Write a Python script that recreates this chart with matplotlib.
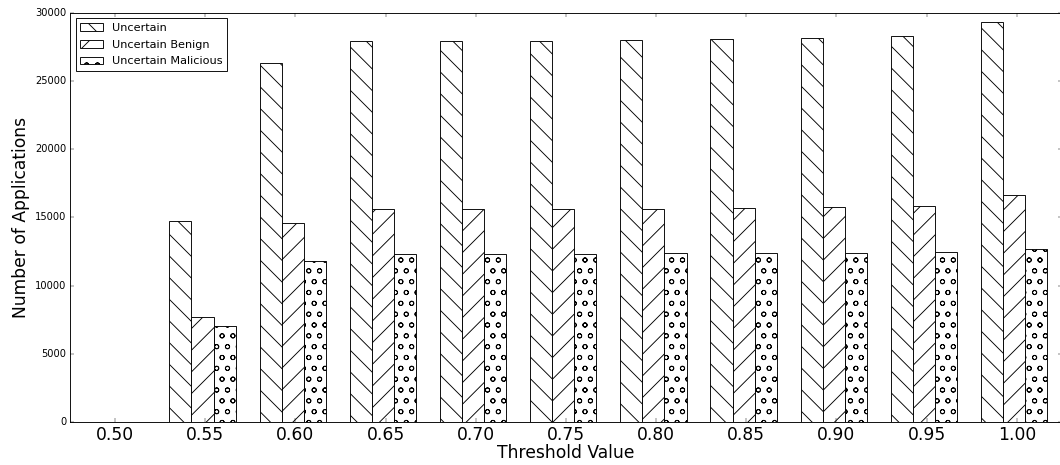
import matplotlib
matplotlib.use("Agg")
import matplotlib.pyplot as plt
import numpy as np

plt.style.use("classic")

thresholds = ["0.50", "0.55", "0.60", "0.65", "0.70", "0.75", "0.80", "0.85", "0.90", "0.95", "1.00"]
uncertain = [0, 14750, 26350, 27950, 27950, 27950, 28030, 28050, 28150, 28300, 29350]
uncertain_benign = [0, 7680, 14600, 15590, 15590, 15590, 15640, 15690, 15740, 15830, 16660]
uncertain_malicious = [0, 7040, 11780, 12320, 12330, 12330, 12360, 12360, 12370, 12440, 12680]

DPI = 65
fig = plt.figure(figsize=(1060 / DPI, 465 / DPI), dpi=DPI, facecolor="white")
ax = fig.add_axes([0.066, 0.0925, 0.9358, 0.8801])

x = np.arange(len(thresholds)) - 0.03
w = 0.245
ax.bar(x - w, uncertain, w, align="center", color="white", edgecolor="black",
       hatch="\\", linewidth=1.0, label="Uncertain")
ax.bar(x, uncertain_benign, w, align="center", color="white", edgecolor="black",
       hatch="/", linewidth=1.0, label="Uncertain Benign")
ax.bar(x + w, uncertain_malicious, w, align="center", color="white", edgecolor="black",
       hatch="o", linewidth=1.0, label="Uncertain Malicious")

ax.set_xticks(np.arange(len(thresholds)))
ax.set_xticklabels(thresholds, fontsize=19)
ax.set_xlim(-0.5, len(thresholds) - 0.5)
ax.set_ylim(0, 30000)
ax.tick_params(axis="y", labelsize=11)
ax.set_xlabel("Threshold Value", fontsize=19, labelpad=0)
ax.set_ylabel("Number of Applications", fontsize=19, labelpad=6)

ax.legend(loc="upper left", fontsize=12.5, borderaxespad=0.5, labelspacing=0.6,
          frameon=True)

fig.savefig("out.png", dpi=DPI, facecolor="white")
